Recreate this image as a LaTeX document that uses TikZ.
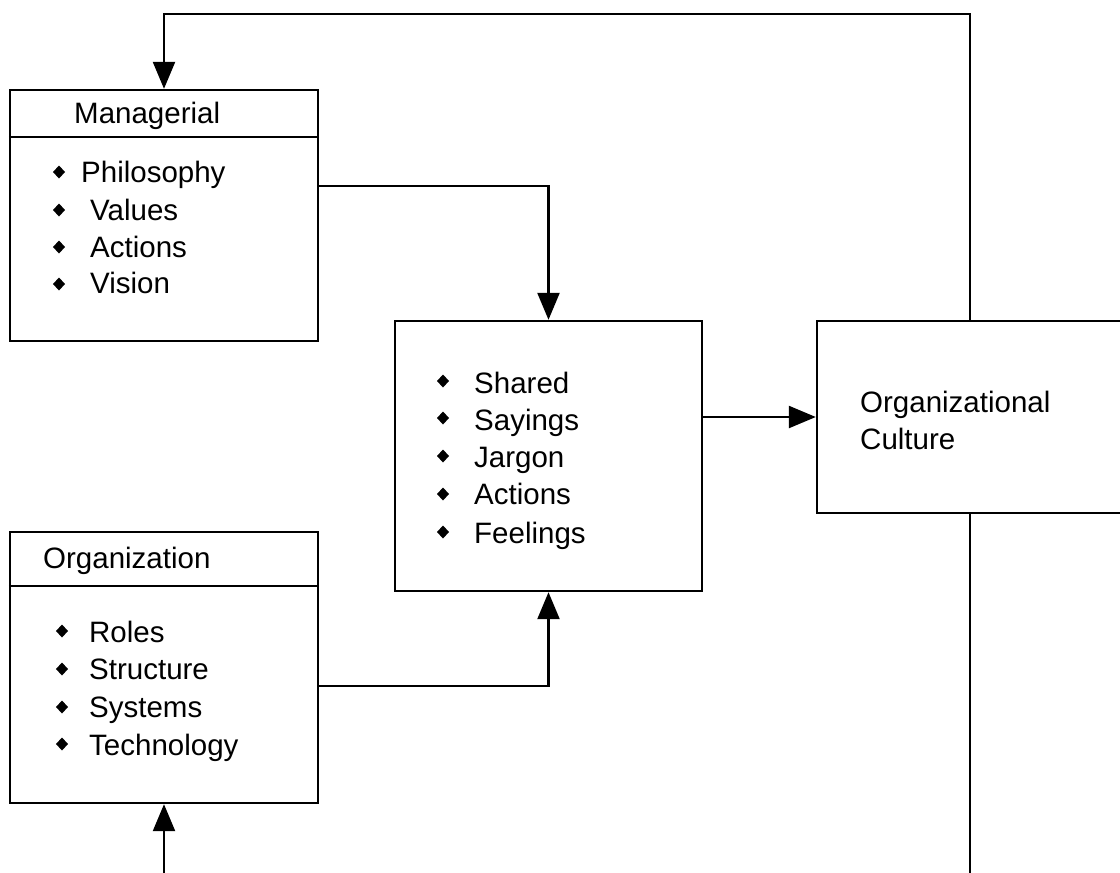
\documentclass[tikz,border=0pt]{standalone}
\usepackage{fontspec}
\setmainfont{Liberation Sans}
\usetikzlibrary{arrows.meta,shapes.geometric}
\begin{document}
\begin{tikzpicture}[x=1pt,y=-1pt,line width=2.4pt,
  box/.style={draw,rectangle,line width=2.4pt,inner sep=0pt},
  arr/.style={-{Triangle[length=27pt,width=22pt]}},
  txt/.style={anchor=base west,inner sep=0pt,font=\fontsize{29.5}{36}\selectfont},
  bul/.style={diamond,fill=black,draw=none,inner sep=0pt,minimum width=13pt,minimum height=14pt}]
\clip (0,0) rectangle (1120,873);
\fill[white] (0,0) rectangle (1120,873);
% boxes
\node[box,minimum width=308pt,minimum height=251pt] (mgr) at (164,215.5) {};
\node[box,minimum width=307pt,minimum height=270pt] (mid) at (548.5,456) {};
\node[box,minimum width=306pt,minimum height=192pt] (cult) at (970,417) {};
\node[box,minimum width=308pt,minimum height=271pt] (org) at (164,667.5) {};
\draw (mgr.west |- 0,137) -- (mgr.east |- 0,137);
\draw (org.west |- 0,586) -- (org.east |- 0,586);
% Managerial texts
\node[txt] (mh) at (73,123) {Managerial};
\node[bul] (mb1) at (59,172) {}; \node[txt] (m1) at (80,182) {Philosophy};
\node[bul] (mb2) at (59,210) {}; \node[txt] (m2) at (89,220) {Values};
\node[bul] (mb3) at (59,247) {}; \node[txt] (m3) at (89,257) {Actions};
\node[bul] (mb4) at (59,284) {}; \node[txt] (m4) at (89,293) {Vision};
% middle texts
\node[bul] (sb1) at (443,381) {}; \node[txt] (s1) at (473,393) {Shared};
\node[bul] (sb2) at (443,418) {}; \node[txt] (s2) at (473,430) {Sayings};
\node[bul] (sb3) at (443,456) {}; \node[txt] (s3) at (473,467) {Jargon};
\node[bul] (sb4) at (443,494) {}; \node[txt] (s4) at (473,504) {Actions};
\node[bul] (sb5) at (443,532) {}; \node[txt] (s5) at (473,543) {Feelings};
% culture text
\node[txt] (c1) at (859,412) {Organizational};
\node[txt] (c2) at (859,449) {Culture};
% Organization texts
\node[txt] (oh) at (42,568) {Organization};
\node[bul] (ob1) at (62,631) {}; \node[txt] (o1) at (88,642) {Roles};
\node[bul] (ob2) at (62,669) {}; \node[txt] (o2) at (88,679) {Structure};
\node[bul] (ob3) at (62,707) {}; \node[txt] (o3) at (88,717) {Systems};
\node[bul] (ob4) at (62,744) {}; \node[txt] (o4) at (88,755) {Technology};
% connectors
\coordinate (topr) at (970,14);
\coordinate (botr) at (970,880);
\coordinate (botl) at (164,880);
\draw[arr] (cult.north) -- (topr) -| (mgr.north);
\draw[arr] (mgr.east |- 0,186) -| (mid.north);
\draw[arr] (org.east |- 0,686) -| (mid.south);
\draw[arr] (mid.east |- cult.west) -- (cult.west);
\draw (cult.south) -- (botr);
\draw[arr] (botl) -- (org.south);
\end{tikzpicture}
\end{document}
